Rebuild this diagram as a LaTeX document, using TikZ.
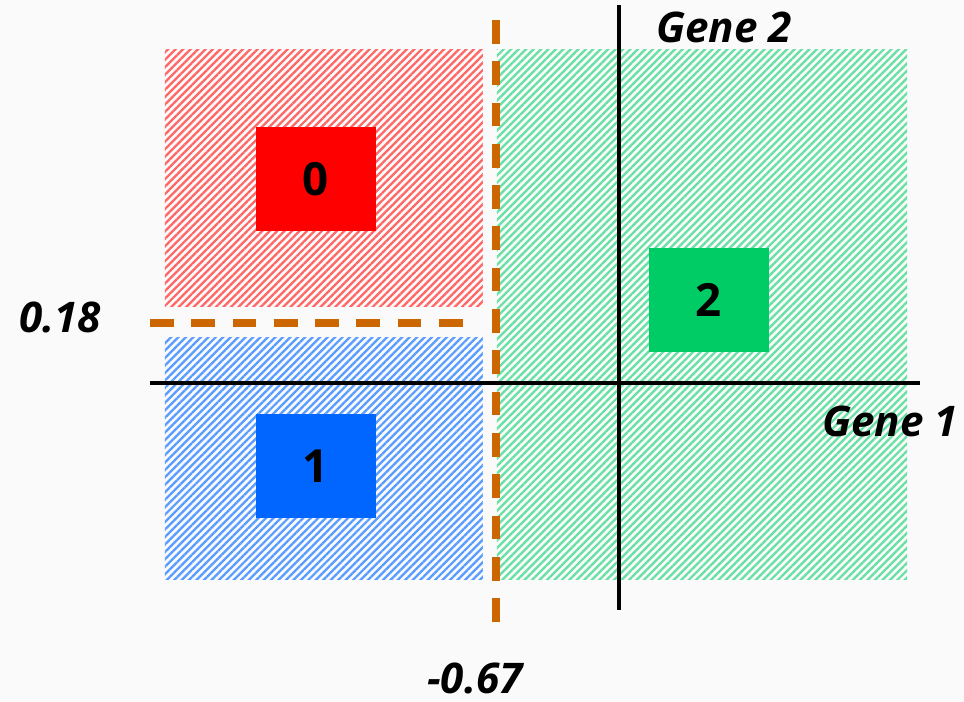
\documentclass[tikz,border=0pt]{standalone}
\usepackage{fontspec}
\setmainfont{Open Sans}
\usepackage{tikz}
\usetikzlibrary{positioning,patterns.meta}
\definecolor{clsred}{RGB}{255,0,0}
\definecolor{clsblue}{RGB}{0,102,255}
\definecolor{clsgreen}{RGB}{0,204,102}
\definecolor{cutorange}{RGB}{204,102,0}
\definecolor{paper}{RGB}{250,250,250}

\begin{document}
\begin{tikzpicture}[
  region/.style={rectangle, draw=none, inner sep=0pt,
                 pattern={Lines[angle=45,distance=3pt,line width=1.3pt]}},
  classbox/.style={rectangle, inner sep=0pt, minimum width=2.4cm, minimum height=2.08cm,
                   font=\fontsize{26}{30}\selectfont\bfseries},
  axisline/.style={line width=2.8pt, black},
  cutline/.style={line width=4pt, cutorange, dash pattern=on 13.5pt off 10pt},
  axlabel/.style={font=\fontsize{24}{28}\selectfont\bfseries\itshape, inner sep=1pt}
]
  % page
  \fill[paper] (-12.38,-6.38) rectangle (6.9,7.66);
  \useasboundingbox (-12.38,-6.38) rectangle (6.9,7.66);

  % decision regions
  \node[region, pattern color=clsred!60, minimum width=6.36cm, minimum height=5.14cm] (redzone) at (-5.9,4.09) {};
  \node[region, pattern color=clsblue!65, minimum width=6.36cm, minimum height=4.84cm] (bluezone) at (-5.9,-1.52) {};
  \node[region, pattern color=clsgreen!60, minimum width=8.2cm, minimum height=10.6cm] (greenzone) at (1.66,1.36) {};

  % class centres
  \node[classbox, fill=clsred] (c0) at (-6.06,4.08) {0};
  \node[classbox, fill=clsblue] (c1) at (-6.06,-1.67) {1};
  \node[classbox, fill=clsgreen] (c2) at (1.8,1.66) {2};

  % axes
  \coordinate (xl) at (-9.38,0);
  \coordinate (xr) at (6.02,0);
  \coordinate (yt) at (0,7.56);
  \coordinate (yb) at (0,-4.54);
  \draw[axisline] (xl) -- (xr);
  \draw[axisline] (yb) -- (yt);

  % split thresholds
  \coordinate (vt) at (-2.46,7.26);
  \coordinate (vb) at (-2.46,-4.84);
  \coordinate (hl) at (-9.38,1.2);
  \coordinate (hr) at (-3.02,1.2);
  \draw[cutline] (vt) -- (vb);
  \draw[cutline] (hl) -- (hr);

  % labels
  \node[axlabel] (g2) at (2.1,7.12) {Gene 2};
  \node[axlabel] (g1) at (5.42,-0.76) {Gene 1};
  \node[axlabel] (t1) at (-11.18,1.32) {0.18};
  \node[axlabel] (t2) at (-2.88,-5.9) {-0.67};
\end{tikzpicture}
\end{document}
